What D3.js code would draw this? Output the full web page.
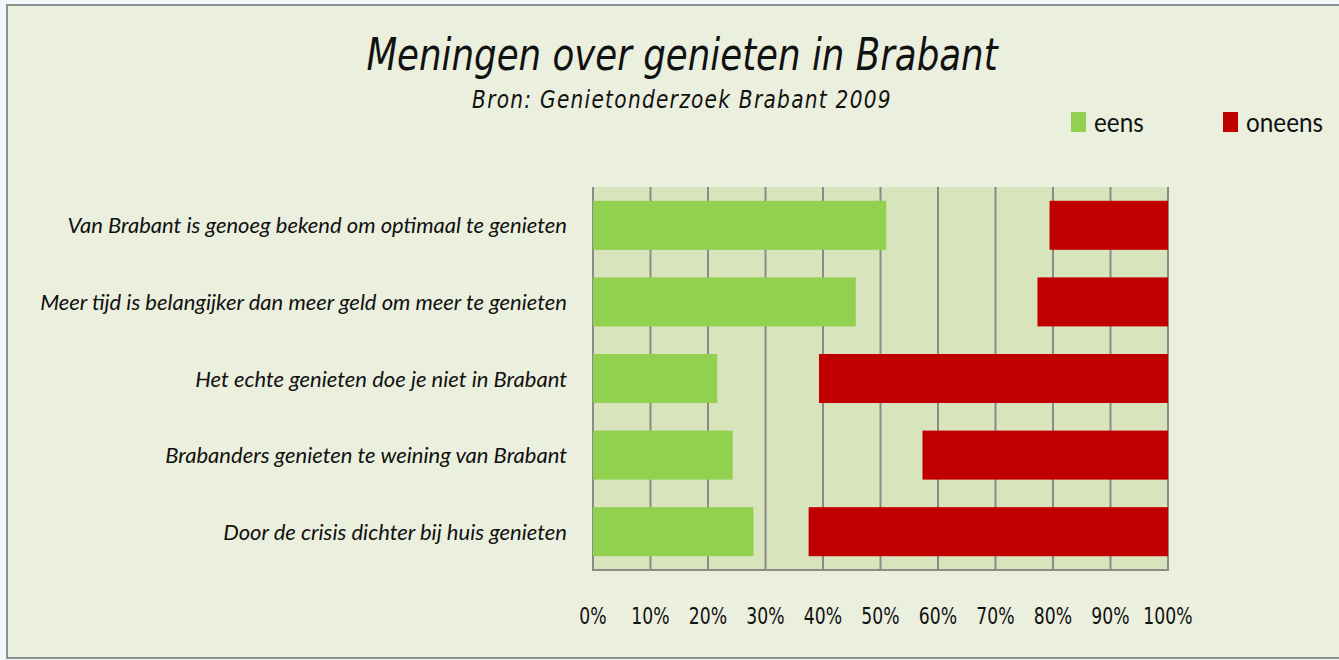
<!DOCTYPE html>
<html>
<head>
<meta charset="utf-8">
<script src="https://cdn.jsdelivr.net/npm/d3@7"></script>
<style>
  body { margin: 0; background: #f2f7fb; }
  svg { display: block; }
</style>
</head>
<body>
<div id="chart-area"></div>
<script>
// Data
let categories = [
	"Van Brabant is genoeg bekend om optimaal te genieten",
	"Meer tijd is belangijker dan meer geld om meer te genieten",
	"Het echte  genieten doe je niet in Brabant",
	"Brabanders genieten te weining van Brabant",
	"Door de crisis dichter bij huis genieten"
];
let eens = [51.0, 45.7, 21.6, 24.3, 27.9];
let oneens = [20.6, 22.7, 60.7, 42.7, 62.5];
let tickValues = [0, 10, 20, 30, 40, 50, 60, 70, 80, 90, 100];
let seriesNames = ["eens", "oneens"];
let seriesColors = ["#92D050", "#C00000"];

let width = 1339,
	height = 660;

let svg = d3.select("#chart-area").append("svg")
	.attr("width", width)
	.attr("height", height);

// outer frame
svg.append("rect")
	.attr("x", 7).attr("y", 5)
	.attr("width", width).attr("height", 653)
	.attr("fill", "#EBEFDE")
	.attr("stroke", "#8f8f8f")
	.attr("stroke-width", 2);

// condensed text helper (the picture is squeezed horizontally)
function addText(parent, str, x, y, opts) {
	return parent.append("text")
		.attr("transform", "translate(" + x + "," + y + ") scale(" + opts.sx + ",1)")
		.attr("text-anchor", opts.anchor || "start")
		.style("font-family", opts.family)
		.style("font-size", opts.size + "px")
		.style("font-style", opts.style || "normal")
		.style("letter-spacing", (opts.spacing || 0) + "px")
		.style("fill", "#111")
		.text(str);
}

// title
addText(svg, "Meningen over genieten in Brabant", 682, 70,
	{sx: 0.81, size: 44, family: "DejaVu Sans", style: "italic", anchor: "middle"});
addText(svg, "Bron: Genietonderzoek Brabant 2009", 682, 108,
	{sx: 0.84, size: 24, family: "DejaVu Sans", style: "italic", anchor: "middle", spacing: 1.5});

// scales
let x = d3.scaleLinear()
	.domain([0, 100])
	.range([593, 1168]);

let y = d3.scaleBand()
	.domain(categories)
	.range([187, 570])
	.paddingInner(0.36)
	.paddingOuter(0.18);

// plot area
svg.append("rect")
	.attr("x", x(0)).attr("y", 187)
	.attr("width", x(100) - x(0)).attr("height", 570 - 187)
	.attr("fill", "#D8E4BC");

// gridlines
svg.append("g")
	.selectAll("line")
	.data(tickValues)
	.enter()
	.append("line")
	.attr("x1", d => x(d)).attr("x2", d => x(d))
	.attr("y1", 187).attr("y2", 570)
	.attr("stroke", "#8a8a8a")
	.attr("stroke-width", 2);

svg.append("line")
	.attr("x1", x(0) - 1).attr("x2", x(100) + 1)
	.attr("y1", 570).attr("y2", 570)
	.attr("stroke", "#8a8a8a")
	.attr("stroke-width", 2);

// bars
let rows = categories.map((c, i) => ({cat: c, eens: eens[i], oneens: oneens[i]}));

svg.append("g").selectAll("rect")
	.data(rows)
	.enter()
	.append("rect")
	.attr("x", x(0))
	.attr("y", d => y(d.cat))
	.attr("width", d => x(d.eens) - x(0))
	.attr("height", y.bandwidth())
	.attr("fill", seriesColors[0]);

svg.append("g").selectAll("rect")
	.data(rows)
	.enter()
	.append("rect")
	.attr("x", d => x(100 - d.oneens))
	.attr("y", d => y(d.cat))
	.attr("width", d => x(100) - x(100 - d.oneens))
	.attr("height", y.bandwidth())
	.attr("fill", seriesColors[1]);

// category labels
rows.forEach(d => {
	addText(svg, d.cat, 567, y(d.cat) + y.bandwidth() / 2 + 8,
		{sx: 1.0, size: 22, family: "Lato", style: "italic", anchor: "end"});
});

// x tick labels
tickValues.forEach(t => {
	addText(svg, t + "%", x(t), 624,
		{sx: 0.75, size: 23, family: "DejaVu Sans", anchor: "middle"});
});

// legend
let legendX = [1071, 1223];
seriesNames.forEach((s, i) => {
	svg.append("rect")
		.attr("x", legendX[i]).attr("y", 112)
		.attr("width", 15).attr("height", 20)
		.attr("fill", seriesColors[i]);
	addText(svg, s, legendX[i] + 23, 132,
		{sx: 0.9, size: 27, family: "Lato"});
});
</script>
</body>
</html>
